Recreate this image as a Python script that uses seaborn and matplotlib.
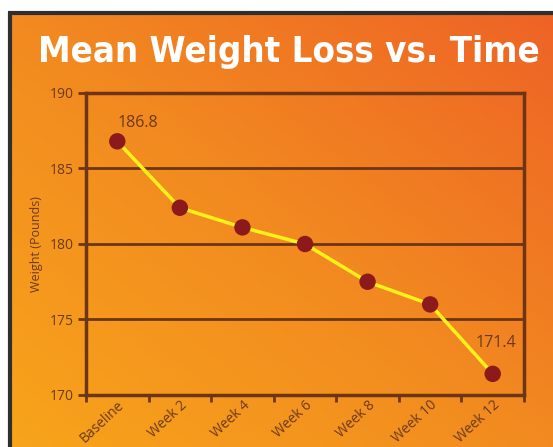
import numpy as np
import pandas as pd
import matplotlib
matplotlib.use("Agg")
import matplotlib.pyplot as plt
from matplotlib import font_manager
from matplotlib.colors import LinearSegmentedColormap
from matplotlib.transforms import ScaledTranslation
import seaborn as sns

# ── data ────────────────────────────────────────────────────
timepoints = ["Baseline", "Week 2", "Week 4", "Week 6", "Week 8", "Week 10", "Week 12"]
mean_weight = [186.8, 182.4, 181.1, 180.0, 177.5, 176.0, 171.4]
y_ticks = [170, 175, 180, 185, 190]

df = pd.DataFrame({"time": timepoints, "weight": mean_weight})
df["pos"] = range(len(df))

sns.set_theme(style="white")
plt.rcParams["font.family"] = ["Open Sans", "DejaVu Sans"]

BROWN = "#6e3514"
TEXT = "#6b3a1e"


def pick_narrow_font():
    # look for a condensed bold face for the title, else plain bold
    candidates = [
        dict(family="Liberation Sans Narrow"),
        dict(family="DejaVu Sans", stretch="condensed"),
        dict(family="Noto Sans", stretch="condensed"),
        dict(family="Noto Sans Condensed"),
        dict(family="Roboto Condensed"),
        dict(family="Open Sans", stretch="condensed"),
    ]
    for c in candidates:
        fp = font_manager.FontProperties(weight="bold", **c)
        try:
            path = font_manager.findfont(fp, fallback_to_default=False)
        except Exception:
            continue
        name = path.lower()
        if "narrow" in name or "condensed" in name:
            return font_manager.FontProperties(fname=path)
    return font_manager.FontProperties(family="DejaVu Sans", weight="bold")


W, H = 553, 447
fig = plt.figure(figsize=(W / 100, H / 100), dpi=100)
fig.patch.set_facecolor("white")

# ── orange gradient background with dark frame ──────────────
bg = fig.add_axes([0, 0, 1, 1], zorder=0)
bg.set_xlim(0, W)
bg.set_ylim(H, 0)
bg.axis("off")
cmap = LinearSegmentedColormap.from_list("orange", ["#f8a41b", "#f28a20", "#ee6326"])
gx, gy = np.meshgrid(np.linspace(0, 1, 200), np.linspace(0, 1, 200))
grad = (gx + (1 - gy)) / 2  # 0 at lower-left, 1 at upper-right
bg.imshow(grad, cmap=cmap, extent=[10, W, H, 13], origin="upper", aspect="auto")
bg.plot([9.5, 9.5], [12, H], color="#2f2f2f", lw=3, solid_capstyle="butt")
bg.plot([8, W], [12.5, 12.5], color="#2f2f2f", lw=3, solid_capstyle="butt")

title_fp = pick_narrow_font()
title_fp.set_size(32)
title = bg.text(289, 52, "Mean Weight Loss vs. Time", color="white",
                fontproperties=title_fp, ha="center", va="center")
# shrink the title until it spans about 500 px
renderer = fig.canvas.get_renderer()
tw = title.get_window_extent(renderer).width
if tw > 502:
    title.set_fontsize(32 * 502 / tw)

# ── the line chart ──────────────────────────────────────────
ax = fig.add_axes([86 / W, 1 - 395 / H, (524 - 86) / W, (395 - 93) / H], zorder=1)
ax.patch.set_alpha(0)

sns.lineplot(data=df, x="pos", y="weight", ax=ax, color="#fff21a", lw=2.5, zorder=3)
sns.scatterplot(data=df, x="pos", y="weight", ax=ax, color="#8c1a1a", s=140,
                edgecolor="none", zorder=4)

ax.set_xlim(-0.5, len(timepoints) - 0.5)
ax.set_ylim(170, 190)
ax.set_yticks(y_ticks)
ax.set_xticks(np.arange(-0.5, len(timepoints), 1.0))
ax.set_xticklabels([])
ax.set_xticks(df["pos"], minor=True)
ax.set_xticklabels(timepoints, minor=True, rotation=43, ha="right",
                   rotation_mode="anchor", fontsize=10, color=TEXT)
shift = ScaledTranslation(5 / 100, 0, fig.dpi_scale_trans)
for lab in ax.get_xticklabels(minor=True):
    lab.set_transform(lab.get_transform() + shift)
ax.tick_params(axis="x", which="minor", length=0, pad=2)
ax.tick_params(axis="x", which="major", length=5, width=2, color=BROWN, direction="out")
ax.tick_params(axis="y", length=6, width=2, color=BROWN, labelsize=10, labelcolor=TEXT,
               direction="out", pad=3)
ax.tick_params(left=True, bottom=True)

for y in y_ticks[1:]:
    ax.axhline(y, color=BROWN, lw=2, zorder=1)
for side in ["left", "right", "top", "bottom"]:
    ax.spines[side].set_visible(True)
    ax.spines[side].set_color(BROWN)
    ax.spines[side].set_linewidth(2.5)

ax.set_xlabel("")
ax.set_ylabel("Weight (Pounds)", fontsize=9, color=TEXT, labelpad=5)

ax.annotate(f"{mean_weight[0]}", (df["pos"][0], mean_weight[0]), xytext=(14.5, 13),
            textcoords="offset points", ha="center", va="center", fontsize=11.5, color=TEXT)
ax.annotate(f"{mean_weight[-1]}", (df["pos"].iloc[-1], mean_weight[-1]), xytext=(2, 22.5),
            textcoords="offset points", ha="center", va="center", fontsize=11.5, color=TEXT)

fig.savefig("out.png", dpi=100)
